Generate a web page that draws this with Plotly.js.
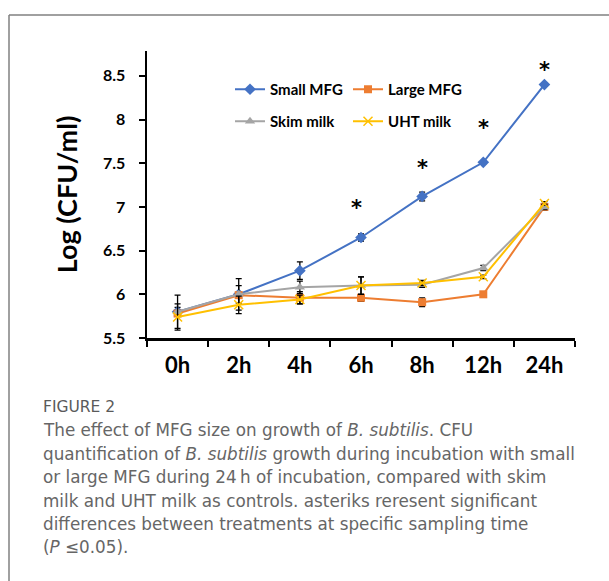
<!DOCTYPE html>
<html>
<head>
<meta charset="utf-8">
<script src="https://cdn.plot.ly/plotly-3.0.1.min.js"></script>
<style>
html,body{margin:0;padding:0;background:#fff;}
#chart{width:609px;height:581px;}
</style>
</head>
<body>
<div id="chart"></div>
<script>
// ---- data ----
const timePoints = ["0h", "2h", "4h", "6h", "8h", "12h", "24h"];
const smallMFG = [5.80, 6.00, 6.27, 6.65, 7.12, 7.51, 8.40];
const smallMFGErr = [0.05, 0.10, 0.10, 0.04, 0.05, 0.02, 0.02];
const largeMFG = [5.78, 5.99, 5.96, 5.96, 5.91, 6.00, 7.00];
const largeMFGErr = [0.03, 0.03, 0.07, 0.04, 0.05, 0.02, 0.03];
const skimMilk = [5.80, 6.00, 6.08, 6.10, 6.11, 6.30, 7.00];
const skimMilkErr = [0.19, 0.18, 0.07, 0.10, 0.03, 0.03, 0.03];
const uhtMilk = [5.74, 5.88, 5.94, 6.10, 6.13, 6.20, 7.04];
const uhtMilkErr = [0.15, 0.10, 0.05, 0.10, 0.03, 0.02, 0.02];
const sigTimes = ["6h", "8h", "12h", "24h"];
const sigLevels = [7.02, 7.48, 7.94, 8.60];
const seriesNames = ["Small MFG", "Large MFG", "Skim milk", "UHT milk"];
const yTitle = "Log (CFU/ml)";
const captionHead = "FIGURE 2";
const captionLines = [
  "The effect of MFG size on growth of <i>B. subtilis</i>. CFU",
  "quantification of <i>B. subtilis</i> growth during incubation with small",
  "or large MFG during 24\u2009h of incubation, compared with skim",
  "milk and UHT milk as controls. asteriks reresent significant",
  "differences between treatments at specific sampling time",
  "(<i>P</i> \u22640.05)."
];

// ---- layout helpers (pixel -> paper) ----
const W = 609, H = 581;
const M = {l: 147, r: 34, t: 51, b: 243};
const PW = W - M.l - M.r, PH = H - M.t - M.b;
const px = x => (x - M.l) / PW;
const py = y => (H - M.b - y) / PH;

const tickFont = {family: "Lato, 'DejaVu Sans', sans-serif", color: "#000"};

function errBar(arr) {
  return {type: "data", array: arr, visible: true, color: "#000", thickness: 1.3, width: 3};
}

const traces = [
  {x: timePoints, y: smallMFG, name: seriesNames[0], type: "scatter", mode: "lines+markers",
   line: {color: "#4472C4", width: 2}, marker: {symbol: "diamond", size: 9, color: "#4472C4"},
   error_y: errBar(smallMFGErr), legend: "legend"},
  {x: timePoints, y: largeMFG, name: seriesNames[1], type: "scatter", mode: "lines+markers",
   line: {color: "#ED7D31", width: 2}, marker: {symbol: "square", size: 8, color: "#ED7D31"},
   error_y: errBar(largeMFGErr), legend: "legend"},
  {x: timePoints, y: skimMilk, name: seriesNames[2], type: "scatter", mode: "lines+markers",
   line: {color: "#A5A5A5", width: 2}, marker: {symbol: "triangle-up", size: 9, color: "#A5A5A5"},
   error_y: errBar(skimMilkErr), legend: "legend2"},
  {x: timePoints, y: uhtMilk, name: seriesNames[3], type: "scatter", mode: "lines+markers",
   line: {color: "#FFC000", width: 2}, marker: {symbol: "x-thin", size: 9, line: {color: "#FFC000", width: 1.5}, color: "#FFC000"},
   error_y: errBar(uhtMilkErr), legend: "legend2"}
];

const annotations = [];
sigTimes.forEach((t, i) => {
  annotations.push({x: t, y: sigLevels[i], xref: "x", yref: "y", text: "*", showarrow: false,
    font: {family: "'DejaVu Sans', sans-serif", size: 21, color: "#000", weight: "bold"}, yshift: -3, xshift: (i === 0 ? -5 : 0)});
});
annotations.push({x: px(41), y: py(407), xref: "paper", yref: "paper", xanchor: "left", yanchor: "middle",
  text: captionHead, showarrow: false, font: {family: "'DejaVu Sans', sans-serif", size: 15.5, color: "#5a5a5a"}});
const lineYs = [430, 453.5, 477, 500.5, 524, 547];
captionLines.forEach((s, i) => {
  annotations.push({x: px(41), y: py(lineYs[i]), xref: "paper", yref: "paper", xanchor: "left", yanchor: "middle",
    text: s, showarrow: false, font: {family: "'DejaVu Sans', sans-serif", size: 16.8, color: "#666"}});
});

const legendFont = {family: "Lato, sans-serif", size: 15, color: "#000", weight: "bold"};
const layout = {
  width: W, height: H,
  margin: M,
  paper_bgcolor: "#fff", plot_bgcolor: "#fff",
  showlegend: true,
  legend: {orientation: "h", x: px(230), y: py(73), xanchor: "left", yanchor: "top",
    font: legendFont, entrywidth: 73, bgcolor: "rgba(0,0,0,0)", tracegroupgap: 0},
  legend2: {orientation: "h", x: px(230), y: py(105), xanchor: "left", yanchor: "top",
    font: legendFont, entrywidth: 73, bgcolor: "rgba(0,0,0,0)", tracegroupgap: 0},
  xaxis: {type: "category", range: [-0.5, 6.5], showgrid: false, zeroline: false,
    showline: true, linecolor: "#000", linewidth: 2.5,
    ticks: "outside", tickson: "boundaries", ticklen: 6, tickwidth: 2, tickcolor: "#000",
    tickfont: Object.assign({size: 22, weight: "bold"}, tickFont), ticklabelstandoff: 6,
    fixedrange: true},
  yaxis: {range: [5.5, 8.784], showgrid: false, zeroline: false,
    showline: true, linecolor: "#000", linewidth: 2.5,
    tickvals: [5.5, 6, 6.5, 7, 7.5, 8, 8.5], ticktext: ["5.5", "6", "6.5", "7", "7.5", "8", "8.5"],
    ticks: "outside", ticklen: 6, tickwidth: 2, tickcolor: "#000",
    tickfont: Object.assign({size: 16, weight: "bold"}, tickFont), ticklabelstandoff: 10,
    title: {text: yTitle, font: {family: "Lato, sans-serif", size: 27, color: "#000", weight: "bold"}, standoff: 18},
    fixedrange: true},
  annotations: annotations,
  shapes: [
    {type: "line", xref: "paper", yref: "paper", x0: px(9), x1: px(620), y0: py(15), y1: py(15),
     line: {color: "#808080", width: 1.5}},
    {type: "line", xref: "paper", yref: "paper", x0: px(9), x1: px(9), y0: py(15), y1: py(590),
     line: {color: "#808080", width: 1.5}}
  ]
};

Plotly.newPlot("chart", traces, layout, {displayModeBar: false, staticPlot: true});
</script>
</body>
</html>
